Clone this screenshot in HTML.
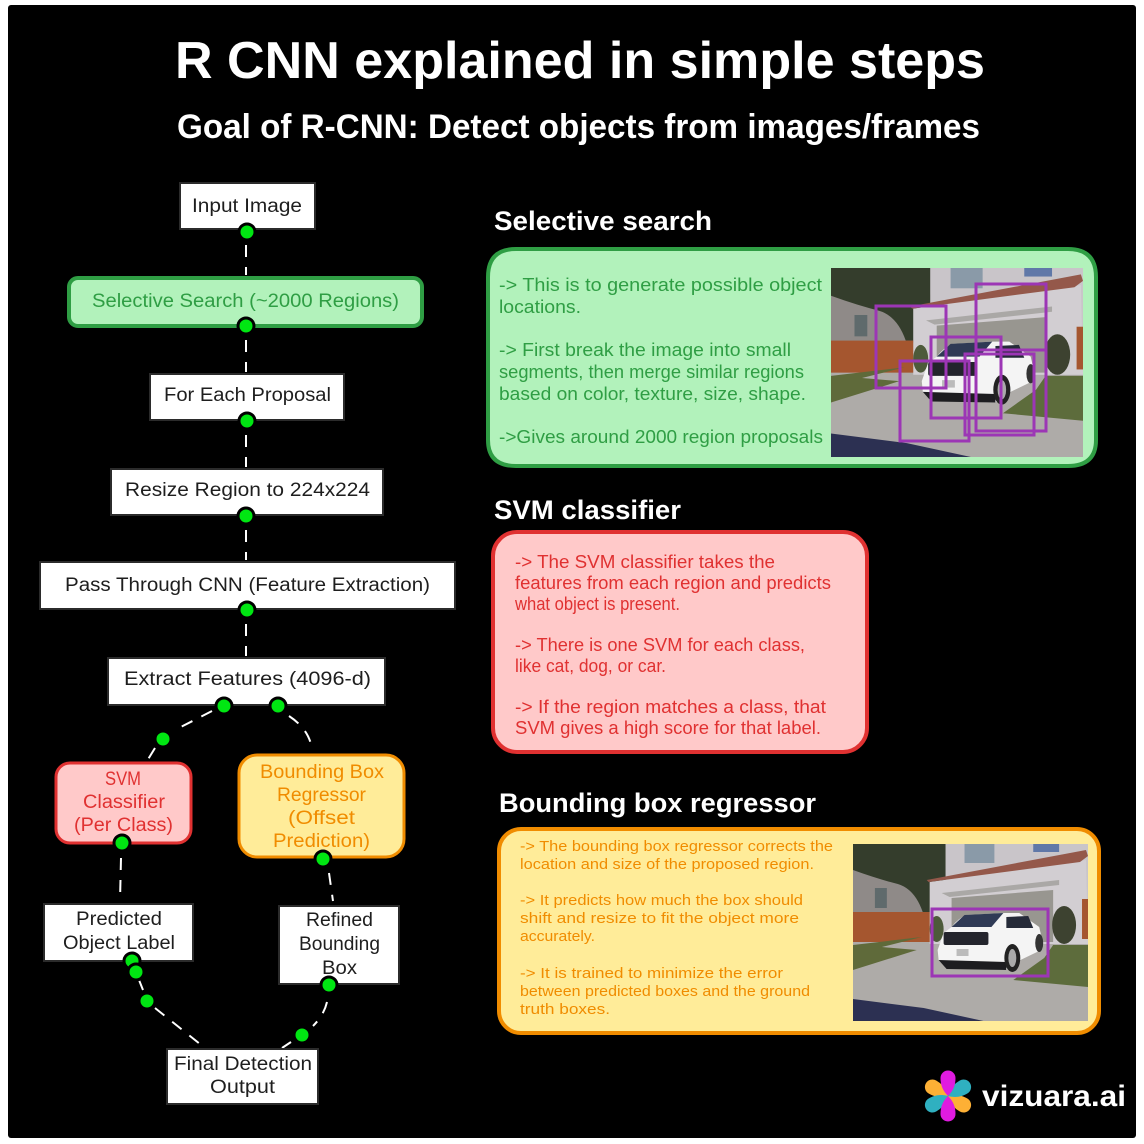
<!DOCTYPE html>
<html lang="en">
<head>
<meta charset="utf-8">
<title>R CNN explained in simple steps</title>
<style>
html,body{margin:0;padding:0;background:#fff}
svg{display:block}
text{font-family:"Liberation Sans","DejaVu Sans",sans-serif}
.k text,.k{fill:#1e1e1e;font-size:19px}
.g text{fill:#2f9e44;font-size:18px}
.r text{fill:#e03131;font-size:18px}
.o text{fill:#f08c00;font-size:15px}
.gl text{fill:#2f9e44;font-size:19px}
.rl text{fill:#e03131;font-size:19px}
.ol text{fill:#f08c00;font-size:19px}
.w text{fill:#fff;font-weight:bold}
.box{fill:#fff;stroke:#2b2b2b;stroke-width:2}
.dash{fill:none;stroke:#fff;stroke-width:2;stroke-dasharray:12 10}
.dot{fill:#00e612;stroke:#000;stroke-width:3}
.p{fill:none;stroke:#9c36b5;stroke-width:3}
</style>
</head>
<body>
<svg xmlns="http://www.w3.org/2000/svg" width="1144" height="1144" viewBox="0 0 1144 1144">
<defs>
<symbol id="photo" viewBox="0 0 236 177" preserveAspectRatio="none">
<rect width="236" height="177" fill="#aeaba8"/>
<rect y="25" width="93" height="45" fill="#8f8a88"/>
<rect x="22" y="44" width="12" height="20" fill="#5f6a6c"/>
<path d="M0,0H93V68H70Q62,45 45,40Q25,35 0,26Z" fill="#343d2c"/>
<rect x="93" width="143" height="100" fill="#c9c5c9"/>
<rect x="112" y="0" width="30" height="19" fill="#8a9aa8"/>
<rect x="181" y="0" width="26" height="8" fill="#6078a8"/>
<polygon points="77,38 234,16 236,100 77,100" fill="#d2ced2"/>
<polygon points="74,36 234,6 236,12 228,18 76,38" fill="#94584a"/>
<polygon points="89,49 207,36 207,41 97,53" fill="#aaa8a6"/>
<polygon points="99,54 201,46 201,98 99,98" fill="#989690"/>
<rect y="68" width="77" height="30" fill="#a5562f"/>
<rect x="230" y="55" width="6" height="40" fill="#a5562f"/>
<ellipse cx="212" cy="81" rx="12" ry="19" fill="#3d4230"/>
<ellipse cx="84" cy="85" rx="7" ry="13" fill="#4d5a3a"/>
<polygon points="0,101 69,93 29,103 64,106 0,126" fill="#5f6a3a"/>
<polygon points="161,136 192,114 201,101 236,101 236,143" fill="#5d6c3c"/>
<polygon points="0,155 0,177 131,177 71,164" fill="#2c3052"/>
<path d="M99,83Q106,74 114,71L151,69H167L187,83L190,96L189,106L164,118L154,126L94,124L86,116L85,106L91,89Z" fill="#f4f4f4"/>
<polygon points="99,83 112,71 151,69 139,83" fill="#2f3a55"/>
<polygon points="154,73 176,72 181,84 154,84" fill="#252a38"/>
<rect x="91" y="88" width="45" height="13" rx="2" fill="#23242c"/>
<polygon points="86,116 154,118 154,126 94,125" fill="#1d1d20"/>
<ellipse cx="160" cy="114" rx="8" ry="14" fill="#222"/>
<ellipse cx="160" cy="114" rx="4" ry="9" fill="#aaa"/>
<ellipse cx="187" cy="99" rx="4" ry="9" fill="#333"/>
<rect x="104" y="105" width="12" height="7" fill="#bbb"/>
</symbol>
<path id="pt" d="M0,0C6,-6 12,-7.5 18,-7.5A7.5,7.5 0 0 1 18,7.5C12,7.5 6,6 0,0Z"/>
</defs>

<rect width="1144" height="1144" fill="#fff"/>
<rect x="8" y="5" width="1128" height="1133" rx="3" fill="#000"/>

<g class="w">
<text x="175" y="78" font-size="52" textLength="810" lengthAdjust="spacingAndGlyphs">R CNN explained in simple steps</text>
<text x="177" y="138" font-size="34" textLength="803" lengthAdjust="spacingAndGlyphs">Goal of R-CNN: Detect objects from images/frames</text>
<text x="494" y="230" font-size="27" textLength="218" lengthAdjust="spacingAndGlyphs">Selective search</text>
<text x="494" y="519" font-size="27" textLength="187" lengthAdjust="spacingAndGlyphs">SVM classifier</text>
<text x="499" y="812" font-size="27" textLength="317" lengthAdjust="spacingAndGlyphs">Bounding box regressor</text>
<text x="982" y="1106" font-size="30" textLength="144" lengthAdjust="spacingAndGlyphs">vizuara.ai</text>
</g>

<!-- connectors -->
<path class="dash" d="M246,245V275M246,340V372M246,435V467M246,530V560M246,624V656"/>
<path class="dash" d="M212,711L175,730M155,748L147,761"/>
<path class="dash" d="M289,716Q310,730 312,750"/>
<path class="dash" d="M121,858L120,901M329,873L333,901"/>
<path class="dash" d="M139,980L143,990M155,1008L205,1048"/>
<path class="dash" d="M327,1002Q324,1015 313,1026M291,1042L282,1048"/>

<!-- flow nodes -->
<rect class="box" x="180" y="183" width="135" height="46"/>
<rect x="69" y="278" width="353" height="48" rx="9" fill="#b2f2bb" stroke="#2f9e44" stroke-width="4"/>
<rect class="box" x="150" y="374" width="194" height="46"/>
<rect class="box" x="111" y="469" width="272" height="46"/>
<rect class="box" x="40" y="562" width="415" height="47"/>
<rect class="box" x="108" y="658" width="277" height="47"/>
<rect x="56" y="763" width="135" height="80" rx="14" fill="#ffc9c9" stroke="#e03131" stroke-width="3"/>
<rect x="239" y="755" width="165" height="102" rx="18" fill="#ffec99" stroke="#f08c00" stroke-width="3"/>
<rect class="box" x="44" y="904" width="149" height="57"/>
<rect class="box" x="279" y="906" width="120" height="78"/>
<rect class="box" x="167" y="1049" width="151" height="55"/>

<g class="k">
<text x="192" y="212" textLength="110" lengthAdjust="spacingAndGlyphs">Input Image</text>
<text x="164" y="401" textLength="167" lengthAdjust="spacingAndGlyphs">For Each Proposal</text>
<text x="125" y="496" textLength="245" lengthAdjust="spacingAndGlyphs">Resize Region to 224x224</text>
<text x="65" y="591" textLength="365" lengthAdjust="spacingAndGlyphs">Pass Through CNN (Feature Extraction)</text>
<text x="124" y="685" textLength="247" lengthAdjust="spacingAndGlyphs">Extract Features (4096-d)</text>
<text x="76" y="925" textLength="86" lengthAdjust="spacingAndGlyphs">Predicted</text>
<text x="63" y="949" textLength="112" lengthAdjust="spacingAndGlyphs">Object Label</text>
<text x="306" y="926" textLength="67" lengthAdjust="spacingAndGlyphs">Refined</text>
<text x="299" y="950" textLength="81" lengthAdjust="spacingAndGlyphs">Bounding</text>
<text x="322" y="974" textLength="35" lengthAdjust="spacingAndGlyphs">Box</text>
<text x="174" y="1070" textLength="138" lengthAdjust="spacingAndGlyphs">Final Detection</text>
<text x="210" y="1093" textLength="65" lengthAdjust="spacingAndGlyphs">Output</text>
</g>
<g class="gl"><text x="92" y="307" textLength="307" lengthAdjust="spacingAndGlyphs">Selective Search (~2000 Regions)</text></g>
<g class="rl">
<text x="105" y="785" textLength="36" lengthAdjust="spacingAndGlyphs">SVM</text>
<text x="83" y="808" textLength="82" lengthAdjust="spacingAndGlyphs">Classifier</text>
<text x="74" y="831" textLength="99" lengthAdjust="spacingAndGlyphs">(Per Class)</text>
</g>
<g class="ol">
<text x="260" y="778" textLength="124" lengthAdjust="spacingAndGlyphs">Bounding Box</text>
<text x="277" y="801" textLength="89" lengthAdjust="spacingAndGlyphs">Regressor</text>
<text x="288" y="824" textLength="67" lengthAdjust="spacingAndGlyphs">(Offset</text>
<text x="273" y="847" textLength="97" lengthAdjust="spacingAndGlyphs">Prediction)</text>
</g>

<!-- dots -->
<g class="dot">
<circle cx="247" cy="232" r="8"/><circle cx="246" cy="326" r="8"/><circle cx="247" cy="421" r="8"/>
<circle cx="246" cy="516" r="8"/><circle cx="247" cy="610" r="8"/><circle cx="224" cy="706" r="8"/>
<circle cx="278" cy="706" r="8"/><circle cx="163" cy="739" r="8"/><circle cx="122" cy="843" r="8"/>
<circle cx="323" cy="859" r="8"/><circle cx="132" cy="961" r="8"/><circle cx="136" cy="972" r="8"/>
<circle cx="147" cy="1001" r="8"/><circle cx="329" cy="985" r="8"/><circle cx="302" cy="1035" r="8"/>
</g>

<!-- green panel -->
<path d="M516,249H1068Q1096,249 1096,277V440Q1096,466 1068,466H516Q488,466 488,440V277Q488,249 516,249Z" fill="#b2f2bb" stroke="#2f9e44" stroke-width="4"/>
<g class="g">
<text x="499" y="291" textLength="323" lengthAdjust="spacingAndGlyphs">-&gt; This is to generate possible object</text>
<text x="499" y="313" textLength="82" lengthAdjust="spacingAndGlyphs">locations.</text>
<text x="499" y="356" textLength="292" lengthAdjust="spacingAndGlyphs">-&gt; First break the image into small</text>
<text x="499" y="378" textLength="305" lengthAdjust="spacingAndGlyphs">segments, then merge similar regions</text>
<text x="499" y="400" textLength="307" lengthAdjust="spacingAndGlyphs">based on color, texture, size, shape.</text>
<text x="499" y="443" textLength="324" lengthAdjust="spacingAndGlyphs">-&gt;Gives around 2000 region proposals</text>
</g>
<use href="#photo" x="831" y="268" width="252" height="189"/>
<rect class="p" x="876" y="306" width="70" height="82"/>
<rect class="p" x="976" y="284" width="70" height="147"/>
<rect class="p" x="931" y="337" width="70" height="81"/>
<rect class="p" x="900" y="361" width="69" height="80"/>
<rect class="p" x="965" y="354" width="69" height="81"/>
<rect class="p" x="976" y="350" width="70" height="81"/>

<!-- red panel -->
<rect x="493" y="532" width="374" height="220" rx="24" fill="#ffc9c9" stroke="#e03131" stroke-width="4"/>
<g class="r">
<text x="515" y="568" textLength="260" lengthAdjust="spacingAndGlyphs">-&gt; The SVM classifier takes the</text>
<text x="515" y="589" textLength="316" lengthAdjust="spacingAndGlyphs">features from each region and predicts</text>
<text x="515" y="610" textLength="165" lengthAdjust="spacingAndGlyphs">what object is present.</text>
<text x="515" y="651" textLength="290" lengthAdjust="spacingAndGlyphs">-&gt; There is one SVM for each class,</text>
<text x="515" y="672" textLength="151" lengthAdjust="spacingAndGlyphs">like cat, dog, or car.</text>
<text x="515" y="713" textLength="311" lengthAdjust="spacingAndGlyphs">-&gt; If the region matches a class, that</text>
<text x="515" y="734" textLength="306" lengthAdjust="spacingAndGlyphs">SVM gives a high score for that label.</text>
</g>

<!-- orange panel -->
<rect x="499" y="829" width="600" height="204" rx="22" fill="#ffec99" stroke="#f08c00" stroke-width="4"/>
<g class="o">
<text x="520" y="851" textLength="313" lengthAdjust="spacingAndGlyphs">-&gt; The bounding box regressor corrects the</text>
<text x="520" y="869" textLength="294" lengthAdjust="spacingAndGlyphs">location and size of the proposed region.</text>
<text x="520" y="905" textLength="283" lengthAdjust="spacingAndGlyphs">-&gt; It predicts how much the box should</text>
<text x="520" y="923" textLength="279" lengthAdjust="spacingAndGlyphs">shift and resize to fit the object more</text>
<text x="520" y="941" textLength="75" lengthAdjust="spacingAndGlyphs">accurately.</text>
<text x="520" y="978" textLength="263" lengthAdjust="spacingAndGlyphs">-&gt; It is trained to minimize the error</text>
<text x="520" y="996" textLength="290" lengthAdjust="spacingAndGlyphs">between predicted boxes and the ground</text>
<text x="520" y="1014" textLength="90" lengthAdjust="spacingAndGlyphs">truth boxes.</text>
</g>
<use href="#photo" x="853" y="844" width="235" height="177"/>
<rect class="p" x="932" y="909" width="116" height="67" stroke-width="3.5"/>

<!-- logo -->
<g transform="translate(948,1096)">
<use href="#pt" fill="#fdb035" transform="rotate(30)"/>
<use href="#pt" fill="#fdb035" transform="rotate(210)"/>
<use href="#pt" fill="#2fb0c0" transform="rotate(-30)"/>
<use href="#pt" fill="#2fb0c0" transform="rotate(150)"/>
<use href="#pt" fill="#e01be0" transform="rotate(90)"/>
<use href="#pt" fill="#e01be0" transform="rotate(-90)"/>
</g>
</svg>
</body>
</html>
